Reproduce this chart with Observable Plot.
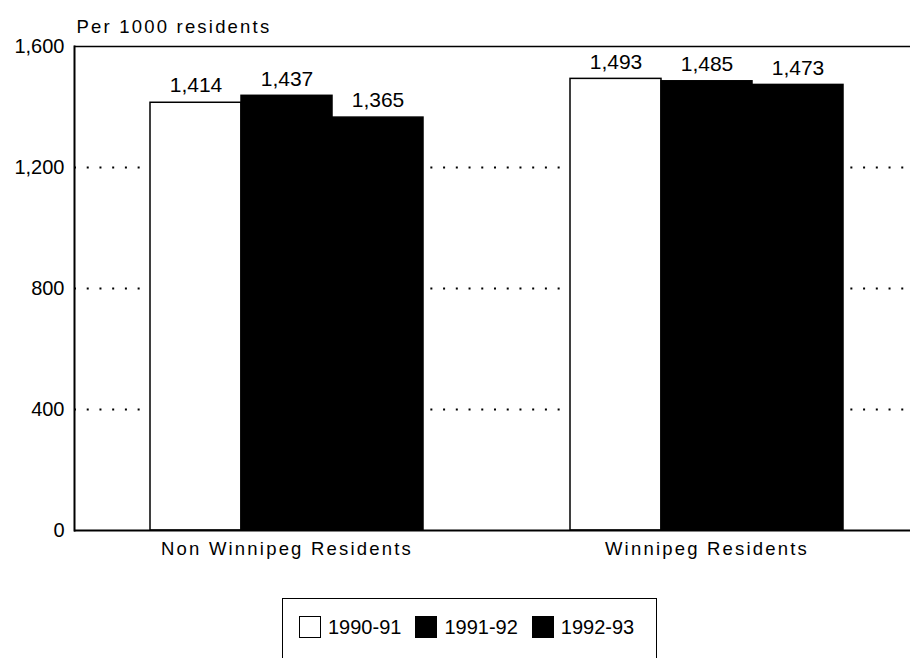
<!DOCTYPE html>
<html>
<head>
<meta charset="utf-8">
<script src="https://cdn.jsdelivr.net/npm/d3@7"></script>
<script src="https://cdn.jsdelivr.net/npm/@observablehq/plot@0.6"></script>
<style>
  html, body { margin: 0; padding: 0; background: #fff; }
  body { position: relative; width: 910px; height: 658px; overflow: hidden; font-family: 'Liberation Sans', Arial, sans-serif; }
  g[font-size="18.5"] text { letter-spacing: 2.2px; }
  #legend { position: absolute; left: 282px; top: 598px; width: 375px; height: 80px;
            border: 1.5px solid #000; box-sizing: border-box; display: flex; align-items: flex-start;
            padding: 17px 0 0 16px; gap: 14px; }
  .item { display: flex; align-items: center; gap: 7px; font-size: 20px; line-height: 22px; color: #000; }
  .sw { width: 22px; height: 22px; box-sizing: border-box; border: 1.5px solid #000; }
</style>
</head>
<body>
<div id="chart"></div>
<div id="legend"></div>
<script>
const groups = ["Non Winnipeg Residents", "Winnipeg Residents"];
const years = ["1990-91", "1991-92", "1992-93"];
const values1990 = [1414, 1493];
const values1991 = [1437, 1485];
const values1992 = [1365, 1473];
const yearColors = ["#ffffff", "#000000", "#000000"];
const yTicks = [0, 400, 800, 1200, 1600];
const yLabel = "Per 1000 residents";

const series = [values1990, values1991, values1992];
const data = groups.flatMap((g, i) => series.map((vals, j) => ({group: g, year: years[j], value: vals[i]})));
const fmt = d3.format(",");

const chart = Plot.plot({
  width: 910,
  height: 585,
  marginTop: 46,
  marginBottom: 55,
  marginLeft: 74,
  marginRight: -4,
  style: {fontFamily: "'Liberation Sans', Arial, sans-serif", fontSize: "20px", color: "#000", background: "#fff"},
  fx: {domain: groups, padding: 0, axis: null},
  x: {domain: years, paddingInner: 0, paddingOuter: 0.791, align: 0.517, axis: null},
  y: {domain: [0, 1600], ticks: yTicks, tickFormat: d => fmt(d), tickSize: 0, tickPadding: 10, label: null},
  color: {domain: years, range: yearColors},
  marks: [
    Plot.ruleY(yTicks.filter(t => t > 0 && t < 1600), {stroke: "#000", strokeWidth: 2, strokeDasharray: "2,10.727"}),
    Plot.barY(data, {fx: "group", x: "year", y: "value", fill: "year", stroke: "#000", strokeWidth: 1.5}),
    Plot.ruleY([0], {stroke: "#000", strokeWidth: 2.2}),
    Plot.ruleY([1600], {stroke: "#000", strokeWidth: 1.6}),
    Plot.frame({anchor: "left", fx: () => groups[0], stroke: "#000", strokeWidth: 2}),
    Plot.text(data, {fx: "group", x: "year", y: "value", text: d => fmt(d.value), dy: -17, fontSize: 21}),
    Plot.text(groups, {fx: d => d, x: () => years[1], frameAnchor: "bottom", dy: 24, text: d => d, fontSize: 18.5}),
    Plot.text([yLabel], {fx: () => groups[0], frameAnchor: "top-left", textAnchor: "start", dx: 2, dy: -27, text: d => d, fontSize: 18.5})
  ]
});
document.getElementById("chart").appendChild(chart);

const legend = d3.select("#legend");
years.forEach((y, i) => {
  const item = legend.append("div").attr("class", "item");
  item.append("div").attr("class", "sw").style("background", yearColors[i]);
  item.append("span").text(y);
});
</script>
</body>
</html>
